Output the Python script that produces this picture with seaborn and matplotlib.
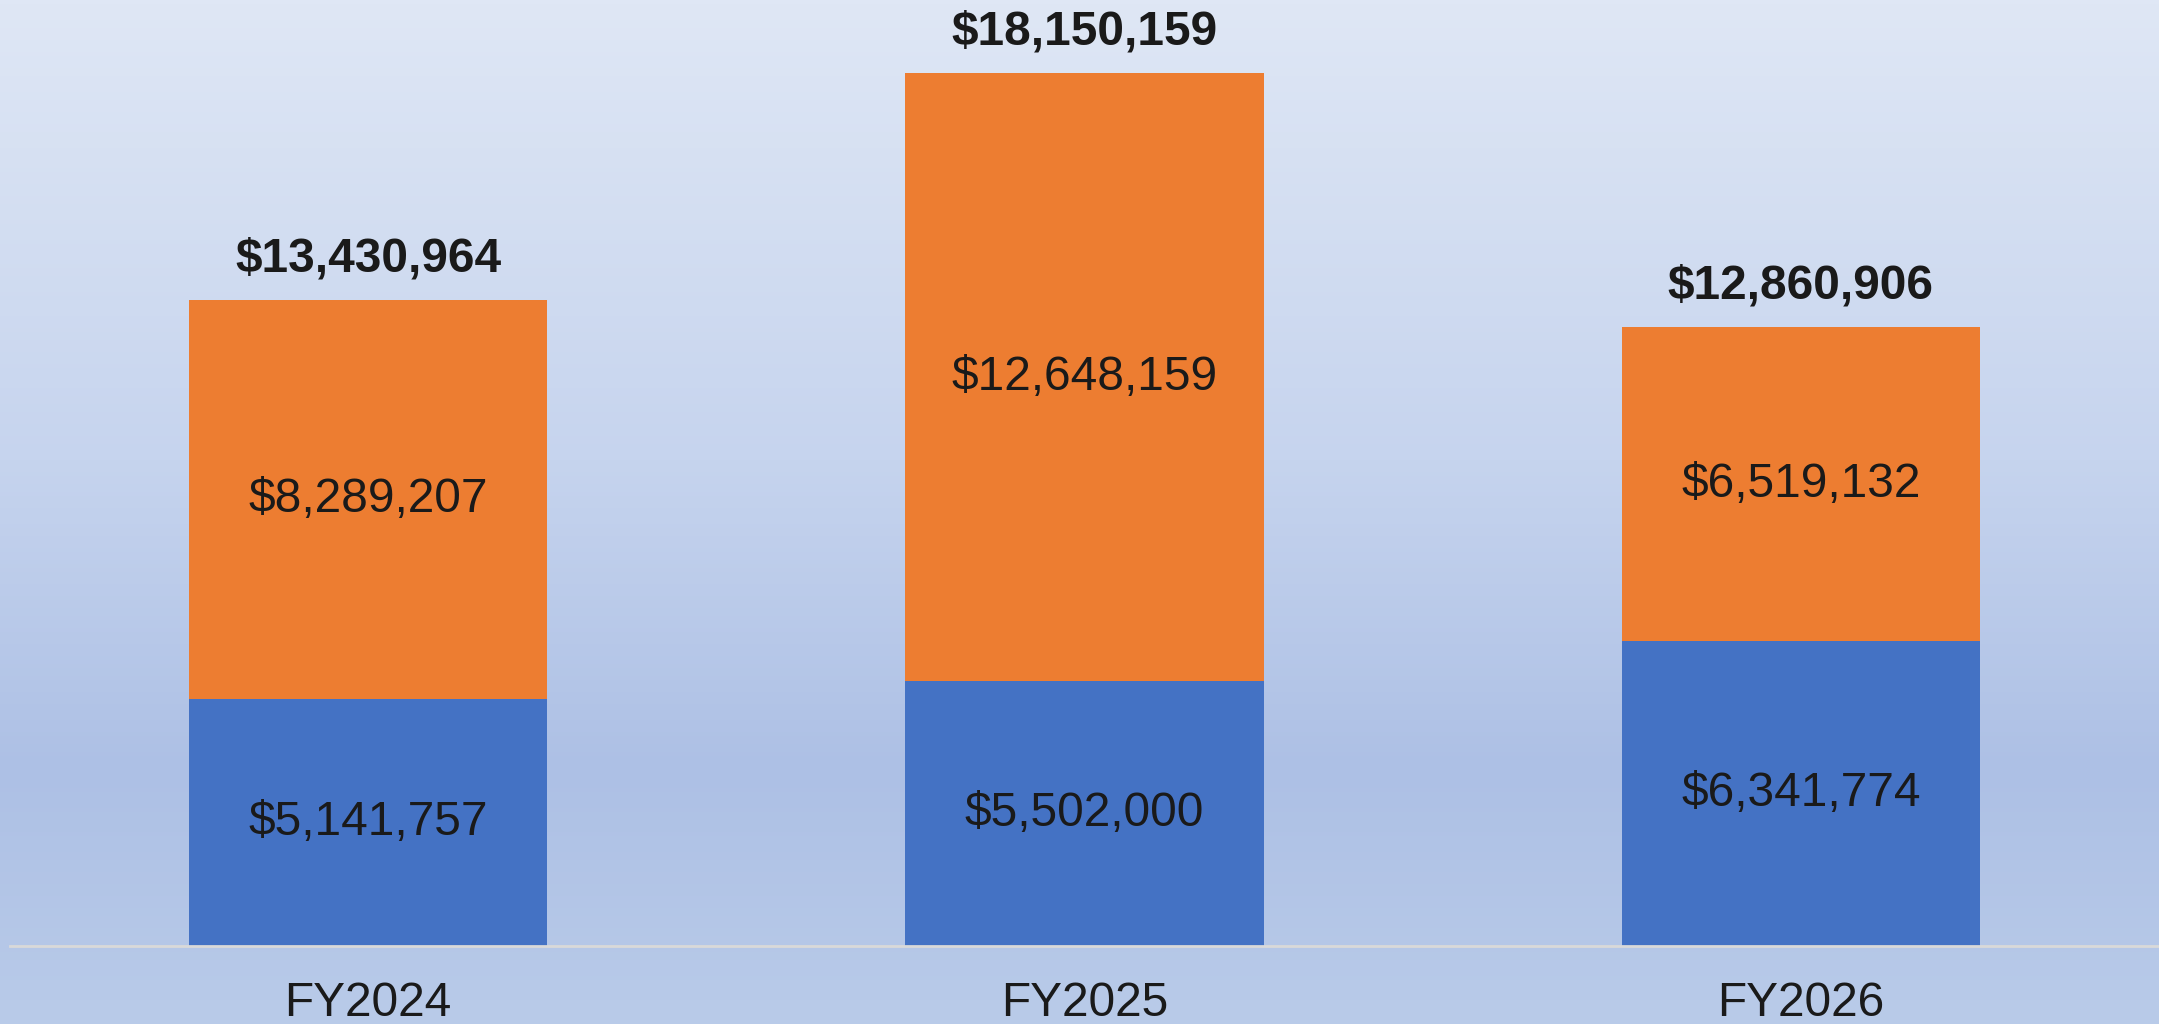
import numpy as np
import pandas as pd
import matplotlib
matplotlib.use('Agg')
import matplotlib.pyplot as plt
import seaborn as sns
from matplotlib.colors import LinearSegmentedColormap

# 회계연도별 금액 (파랑 = 아래, 주황 = 위)
years = ['FY2024', 'FY2025', 'FY2026']
blue_vals = [5141757, 5502000, 6341774]
orange_vals = [8289207, 12648159, 6519132]

df = pd.DataFrame({'year': years, 'blue': blue_vals, 'orange': orange_vals})
df['total'] = df['blue'] + df['orange']

sns.set_theme(style='white')
plt.rcParams['font.family'] = ['Liberation Sans', 'DejaVu Sans']

fig = plt.figure(figsize=(21.59, 10.24), dpi=100)

# 배경 그라데이션
bg = fig.add_axes([0, 0, 1, 1], zorder=0)
cmap = LinearSegmentedColormap.from_list(
    'bg', [(0, '#dfe7f5'), (0.45, '#c6d4ee'), (0.75, '#adc0e5'), (1, '#b9cbe9')])
bg.imshow(np.linspace(0, 1, 256).reshape(-1, 1), aspect='auto', cmap=cmap,
          extent=[0, 1, 0, 1], origin='upper')
bg.axis('off')

ax = fig.add_axes([10 / 2159, 78 / 1024, 2149 / 2159, 946 / 1024], zorder=1)
ax.patch.set_alpha(0)

sns.barplot(data=df, x='year', y='total', color='#ed7d31', width=0.5,
            saturation=1, linewidth=0, ax=ax)
sns.barplot(data=df, x='year', y='blue', color='#4472c4', width=0.5,
            saturation=1, linewidth=0, ax=ax)

ax.set_xlim(-0.5, 2.5)
ax.set_ylim(0, 19.67e6)

for i, r in df.iterrows():
    ax.text(i, r['blue'] / 2, f"${r['blue']:,}", ha='center', va='center',
            fontsize=34.5, color='#1a1a1a')
    ax.text(i, r['blue'] + r['orange'] / 2, f"${r['orange']:,}", ha='center',
            va='center', fontsize=34.5, color='#1a1a1a')
    ax.text(i, r['total'] + 0.86e6, f"${r['total']:,}", ha='center',
            va='center', fontsize=34.5, fontweight='bold', color='#1a1a1a')

ax.set_xlabel('')
ax.set_ylabel('')
ax.set_yticks([])
ax.tick_params(axis='x', length=0, pad=25, labelsize=34.5, labelcolor='#1a1a1a')
for s in ['top', 'right', 'left']:
    ax.spines[s].set_visible(False)
ax.spines['bottom'].set_color('#d9d9d9')
ax.spines['bottom'].set_linewidth(2)

fig.savefig('out.png', dpi=100)
